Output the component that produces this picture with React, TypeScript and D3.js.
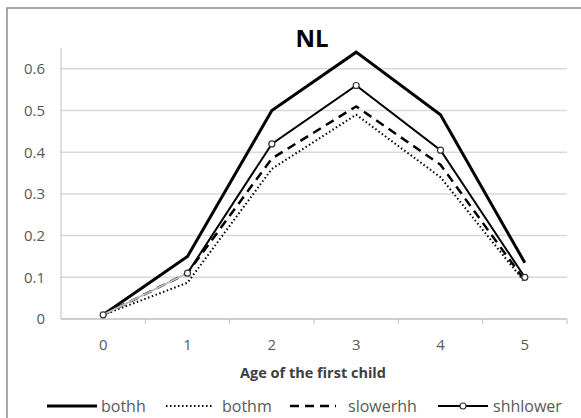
import React from "react";
import * as d3 from "d3";

const ages = ["0", "1", "2", "3", "4", "5"];
const bothh = [0.01, 0.15, 0.5, 0.64, 0.49, 0.135];
const bothm = [0.01, 0.087, 0.36, 0.49, 0.34, 0.088];
const slowerhh = [0.01, 0.11, 0.385, 0.51, 0.37, 0.092];
const shhlower = [0.01, 0.11, 0.42, 0.56, 0.405, 0.1];
const yTicks = [0, 0.1, 0.2, 0.3, 0.4, 0.5, 0.6];

const series = [
  { name: "bothh", values: bothh, width: 3, dash: "", marker: false },
  { name: "bothm", values: bothm, width: 2, dash: "1.5 2.5", marker: false },
  { name: "slowerhh", values: slowerhh, width: 2.5, dash: "9 6", marker: false },
  { name: "shhlower", values: shhlower, width: 2, dash: "", marker: true },
];

const W = 581,
  H = 418;
const margin = { top: 48, right: 14, bottom: 99, left: 61 };
const textColor = "#595959";
const font = "'Open Sans', Lato, sans-serif";

export default function App() {
  const x = d3
    .scaleBand()
    .domain(ages)
    .range([margin.left, W - margin.right]);
  const y = d3
    .scaleLinear()
    .domain([0, 0.65])
    .range([H - margin.bottom, margin.top]);
  const cx = (i: number) => (x(ages[i]) as number) + x.bandwidth() / 2;

  const line = d3
    .line<number>()
    .x((_, i) => cx(i))
    .y((d) => y(d));

  const y0 = y(0);
  const legend = [
    { x1: 47, x2: 97, tx: 101 },
    { x1: 166, x2: 214, tx: 222 },
    { x1: 290, x2: 336, tx: 348 },
    { x1: 438, x2: 488, tx: 493 },
  ];

  return (
    <svg
      width={W}
      height={H}
      style={{ position: "absolute", left: 0, top: 0, background: "#fff" }}
      fontFamily={font}
    >
      <rect x={7} y={8} width={W} height={H} fill="#fff" stroke="#8c8c8c" strokeWidth={1.5} />
      {yTicks.map((t) => (
        <g key={t}>
          {t > 0 && (
            <line x1={margin.left} x2={W - margin.right} y1={y(t)} y2={y(t)} stroke="#d9d9d9" strokeWidth={1.5} />
          )}
          <text x={45} y={y(t)} dy="0.36em" textAnchor="end" fontSize={15} fill={textColor}>
            {t === 0 ? "0" : t.toFixed(1)}
          </text>
        </g>
      ))}
      <line x1={margin.left} x2={margin.left} y1={margin.top} y2={y0} stroke="#bfbfbf" strokeWidth={1} />
      <line x1={margin.left} x2={W - margin.right} y1={y0} y2={y0} stroke="#bfbfbf" strokeWidth={1.5} />
      {ages.map((a, i) => (
        <g key={a}>
          <line
            x1={(x(a) as number) + x.bandwidth()}
            x2={(x(a) as number) + x.bandwidth()}
            y1={y0}
            y2={y0 + 5}
            stroke="#bfbfbf"
          />
          <text x={cx(i)} y={y0 + 31} textAnchor="middle" fontSize={15} fill={textColor}>
            {a}
          </text>
        </g>
      ))}
      <text x={313} y={378} textAnchor="middle" fontSize={14.5} fontWeight="bold" fill="#404040">
        Age of the first child
      </text>
      <text x={312} y={47} textAnchor="middle" fontSize={24} fontWeight="bold" fill="#000">
        NL
      </text>
      {series.map((s) => (
        <g key={s.name}>
          {s.marker ? (
            <>
              <path d={line(s.values.slice(0, 2)) as string} fill="none" stroke="#bbbbbb" strokeWidth={2} />
              <path
                d={d3.line<number>().x((_, i) => cx(i + 1)).y((d) => y(d))(s.values.slice(1)) as string}
                fill="none"
                stroke="#000"
                strokeWidth={s.width}
              />
            </>
          ) : (
            <path
              d={line(s.values) as string}
              fill="none"
              stroke="#000"
              strokeWidth={s.width}
              strokeDasharray={s.dash}
            />
          )}
          {s.marker &&
            s.values.map((v, i) => (
              <circle key={i} cx={cx(i)} cy={y(v)} r={3} fill="#fff" stroke="#333" strokeWidth={1.2} />
            ))}
        </g>
      ))}
      {series.map((s, i) => {
        const l = legend[i];
        const ly = 406;
        return (
          <g key={s.name}>
            <line
              x1={l.x1}
              x2={l.x2}
              y1={ly}
              y2={ly}
              stroke="#000"
              strokeWidth={s.width}
              strokeDasharray={s.dash}
            />
            {s.marker && <circle cx={(l.x1 + l.x2) / 2} cy={ly} r={3} fill="#fff" stroke="#333" strokeWidth={1.2} />}
            <text x={l.tx} y={ly} dy="0.36em" fontSize={16} fill={textColor}>
              {s.name}
            </text>
          </g>
        );
      })}
    </svg>
  );
}
